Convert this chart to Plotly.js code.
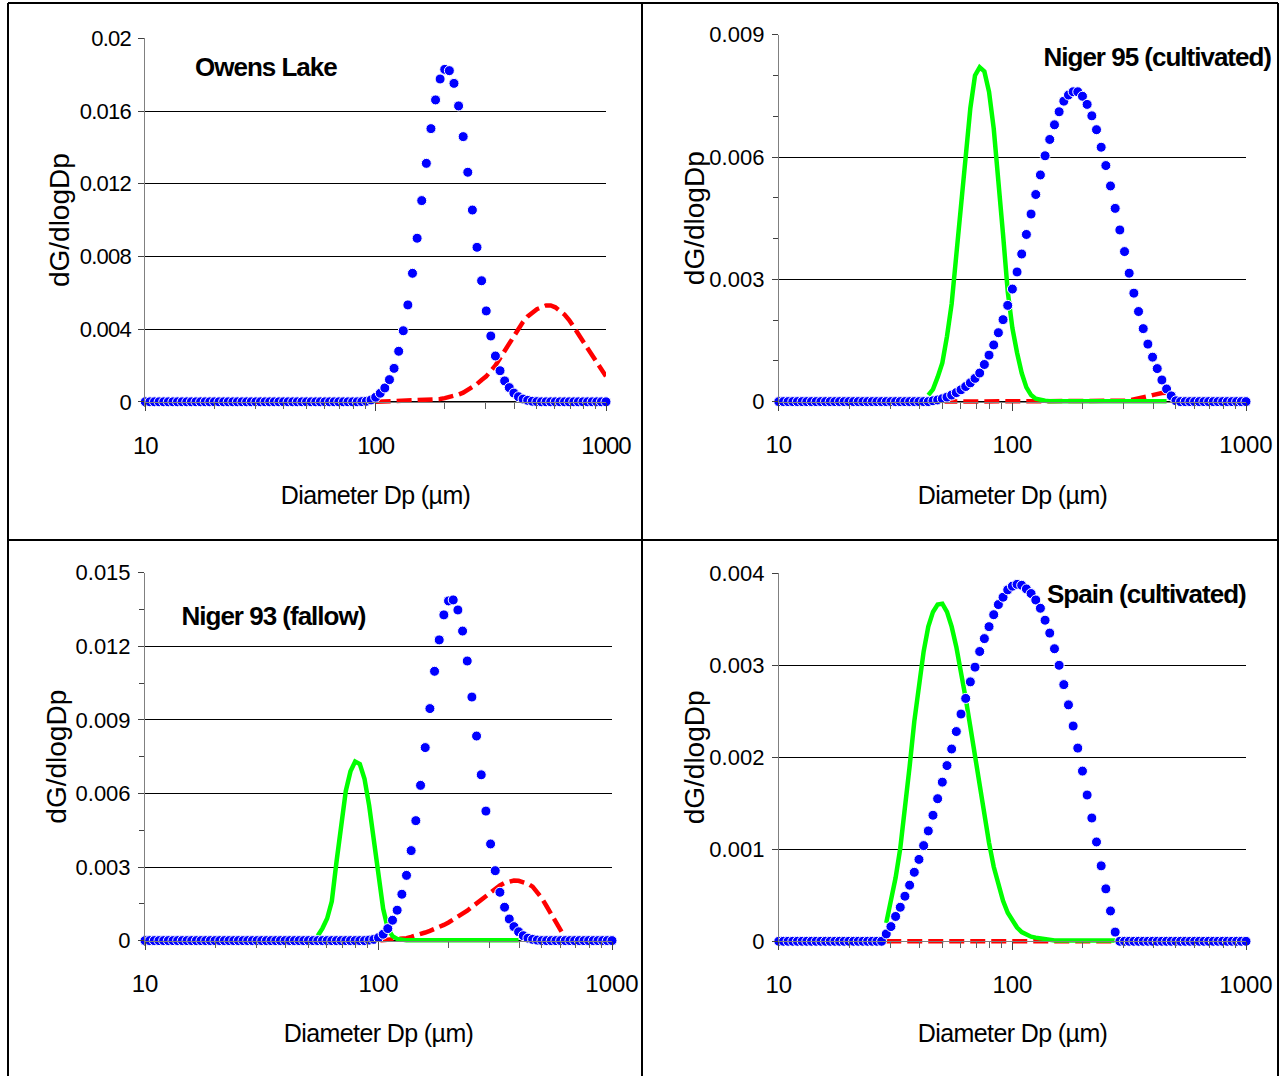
<!DOCTYPE html>
<html>
<head>
<meta charset="utf-8">
<script src="https://cdn.plot.ly/plotly-3.0.1.min.js"></script>
<style>
  html, body { margin: 0; padding: 0; background: #ffffff; }
  #chart { width: 1280px; height: 1076px; }
  /* tighter, condensed-looking lettering */
  #chart .xtick text { letter-spacing: -1px; }
  #chart .ytick text { letter-spacing: -0.8px; }
  #chart .annotation text[style*="26px"] { letter-spacing: -1px; }
  #chart .annotation text[style*="25px"] { letter-spacing: -0.6px; }
</style>
</head>
<body>
<div id="chart"></div>
<script>
// Particle diameter grid (µm), shared by every series
const DP = [
  10, 10.47, 10.96, 11.48, 12.02, 12.59, 13.18, 13.8, 14.45, 15.14,
  15.85, 16.6, 17.38, 18.2, 19.05, 19.95, 20.89, 21.88, 22.91, 23.99,
  25.12, 26.3, 27.54, 28.84, 30.2, 31.62, 33.11, 34.67, 36.31, 38.02,
  39.81, 41.69, 43.65, 45.71, 47.86, 50.12, 52.48, 54.95, 57.54, 60.26,
  63.1, 66.07, 69.18, 72.44, 75.86, 79.43, 83.18, 87.1, 91.2, 95.5,
  100, 104.7, 109.6, 114.8, 120.2, 125.9, 131.8, 138, 144.5, 151.4,
  158.5, 166, 173.8, 182, 190.5, 199.5, 208.9, 218.8, 229.1, 239.9,
  251.2, 263, 275.4, 288.4, 302, 316.2, 331.1, 346.7, 363.1, 380.2,
  398.1, 416.9, 436.5, 457.1, 478.6, 501.2, 524.8, 549.5, 575.4, 602.6,
  631, 660.7, 691.8, 724.4, 758.6, 794.3, 831.8, 871, 912, 955,
  1000
];

// ---- Owens Lake ----
const BLUE_OWENS = [
  0, 0, 0, 0, 0, 0, 0, 0, 0, 0,
  0, 0, 0, 0, 0, 0, 0, 0, 0, 0,
  0, 0, 0, 0, 0, 0, 0, 0, 0, 0,
  0, 0, 0, 0, 0, 0, 0, 0, 0, 0,
  0, 0, 0, 0, 0, 0, 0, 0.00001, 0.00003, 0.0001,
  0.00025, 0.00047, 0.00076, 0.00122, 0.00184, 0.00278, 0.00391, 0.00533, 0.00707, 0.009,
  0.01107, 0.01312, 0.01503, 0.01661, 0.01776, 0.01829, 0.01822, 0.01752, 0.01628, 0.01459,
  0.01263, 0.01055, 0.0085, 0.00666, 0.005, 0.00362, 0.00252, 0.00171, 0.00115, 0.00078,
  0.00048, 0.00028, 0.00015, 0.00008, 0.00003, 0.00001, 0, 0, 0, 0,
  0, 0, 0, 0, 0, 0, 0, 0, 0, 0,
  0
];
const RED_OWENS = [
  null, null, null, null, null, null, null, null, null, null,
  null, null, null, null, null, null, null, null, null, null,
  null, null, null, null, null, null, null, null, null, null,
  null, null, null, null, null, null, null, null, null, null,
  null, null, null, null, null, null, null, null, null, null,
  0, 0.00001, 0.00001, 0.00002, 0.00002, 0.00003, 0.00003, 0.00004, 0.00005, 0.00006,
  0.00007, 0.00008, 0.0001, 0.00012, 0.00015, 0.0002, 0.00025, 0.00032, 0.0004, 0.0005,
  0.00065, 0.0008, 0.00098, 0.0012, 0.0014, 0.0017, 0.002, 0.0024, 0.0028, 0.0033,
  0.0037, 0.0041, 0.0044, 0.0047, 0.0049, 0.0051, 0.0052, 0.0053, 0.0053, 0.0052,
  0.005, 0.0048, 0.0045, 0.0041, 0.0037, 0.0033, 0.0029, 0.0025, 0.0021, 0.0018,
  0.0014
];

// ---- Niger 95 (cultivated) ----
const BLUE_NIGER95 = [
  0, 0, 0, 0, 0, 0, 0, 0, 0, 0,
  0, 0, 0, 0, 0, 0, 0, 0, 0, 0,
  0, 0, 0, 0, 0, 0, 0, 0, 0, 0,
  0, 0, 0, 0.00002, 0.00004, 0.00007, 0.00011, 0.00016, 0.00022, 0.00029,
  0.00037, 0.00046, 0.00057, 0.0007, 0.00091, 0.00114, 0.00139, 0.00169, 0.00201, 0.00236,
  0.00276, 0.00318, 0.00362, 0.0041, 0.0046, 0.00508, 0.00556, 0.00603, 0.00643, 0.00679,
  0.00711, 0.00737, 0.00752, 0.0076, 0.0076, 0.00749, 0.00729, 0.00701, 0.00667, 0.00624,
  0.00579, 0.00529, 0.00474, 0.00421, 0.00368, 0.00315, 0.00266, 0.00221, 0.00179, 0.00141,
  0.00109, 0.00081, 0.00053, 0.00031, 0.00014, 0.00002, 0, 0, 0, 0,
  0, 0, 0, 0, 0, 0, 0, 0, 0, 0,
  0
];
const RED_NIGER95 = [
  null, null, null, null, null, null, null, null, null, null,
  null, null, null, null, null, null, null, null, null, null,
  null, null, null, null, null, null, null, null, null, null,
  null, null, null, null, null, 0, 0, 0, 0, 0,
  0, 0, 0, 0, 0, 0, 0, 0, 0, 0,
  0, 0, 0, 0, 0, 0, 0, 0, 0, 0,
  0, 0.00001, 0.00001, 0.00001, 0.00001, 0.00001, 0.00001, 0.00001, 0.00001, 0.00001,
  0.00001, 0.00001, 0.00001, 0.00001, 0.00002, 0.00003, 0.00005, 0.00007, 0.0001, 0.00013,
  0.00016, 0.00019, 0.00021, 0.00022, null, null, null, null, null, null,
  null, null, null, null, null, null, null, null, null, null,
  null
];
const GREEN_NIGER95 = [
  null, null, null, null, null, null, null, null, null, null,
  null, null, null, null, null, null, null, null, null, null,
  null, null, null, null, null, null, null, null, null, null,
  null, null, 0.00016, 0.0003, 0.0006, 0.00095, 0.0016, 0.0024, 0.0036, 0.0048,
  0.0061, 0.0072, 0.008, 0.0082, 0.0081, 0.0076, 0.0067, 0.0055, 0.0041, 0.0027,
  0.0018, 0.0012, 0.0007, 0.00035, 0.00016, 0.00007, 0.00004, 0.00002, 0.00001, 0.00001,
  0.00001, 0.00001, 0.00001, 0.00001, 0.00001, 0.00001, 0.00001, 0.00001, 0.00001, 0.00001,
  0.00001, 0.00001, 0.00001, 0.00001, 0.00001, 0.00001, 0.00001, 0.00001, 0.00001, 0.00001,
  0.00001, 0.00001, 0.00001, 0.00001, null, null, null, null, null, null,
  null, null, null, null, null, null, null, null, null, null,
  null
];

// ---- Niger 93 (fallow) ----
const BLUE_NIGER93 = [
  0, 0, 0, 0, 0, 0, 0, 0, 0, 0,
  0, 0, 0, 0, 0, 0, 0, 0, 0, 0,
  0, 0, 0, 0, 0, 0, 0, 0, 0, 0,
  0, 0, 0, 0, 0, 0, 0, 0, 0, 0,
  0, 0, 0, 0, 0, 0, 0, 0, 0.00002, 0.00005,
  0.00012, 0.00026, 0.00049, 0.00083, 0.00124, 0.00189, 0.00266, 0.00367, 0.00489, 0.00633,
  0.00787, 0.00946, 0.01098, 0.01226, 0.01328, 0.01385, 0.01389, 0.01348, 0.01262, 0.0114,
  0.00993, 0.00834, 0.00676, 0.00528, 0.00394, 0.00285, 0.00197, 0.00136, 0.00088, 0.00057,
  0.00036, 0.0002, 0.0001, 0.00005, 0.00002, 0, 0, 0, 0, 0,
  0, 0, 0, 0, 0, 0, 0, 0, 0, 0,
  0
];
const RED_NIGER93 = [
  null, null, null, null, null, null, null, null, null, null,
  null, null, null, null, null, null, null, null, null, null,
  null, null, null, null, null, null, null, null, null, null,
  null, null, null, null, null, null, null, null, null, null,
  null, null, null, null, null, null, null, null, null, null,
  0, 0.00001, 0.00002, 0.00003, 0.00005, 0.00007, 0.0001, 0.00015, 0.0002, 0.00027,
  0.00033, 0.0004, 0.00047, 0.00055, 0.00064, 0.00074, 0.00085, 0.00097, 0.0011, 0.00122,
  0.00137, 0.00152, 0.0017, 0.00185, 0.002, 0.00212, 0.00225, 0.00235, 0.00242, 0.00245,
  0.00244, 0.0024, 0.00232, 0.0022, 0.00198, 0.00172, 0.0014, 0.00108, 0.00075, 0.00042,
  0.0001, null, null, null, null, null, null, null, null, null,
  null
];
const GREEN_NIGER93 = [
  null, null, null, null, null, null, null, null, null, null,
  null, null, null, null, null, null, null, null, null, null,
  null, null, null, null, null, null, null, null, null, null,
  null, null, null, null, null, null, null, 0.0002, 0.0005, 0.0009,
  0.0016, 0.0032, 0.0047, 0.0061, 0.0069, 0.0073, 0.0072, 0.0066, 0.0055, 0.004,
  0.0025, 0.0013, 0.0005, 0.00018, 0.00007, 0.00003, 0.00001, 0.00001, 0.00001, 0.00001,
  0.00001, 0.00001, 0.00001, 0.00001, 0.00001, 0.00001, 0.00001, 0.00001, 0.00001, 0.00001,
  0.00001, 0.00001, 0.00001, 0.00001, 0.00001, 0.00001, 0.00001, 0.00001, 0.00001, 0.00001,
  0.00001, null, null, null, null, null, null, null, null, null,
  null, null, null, null, null, null, null, null, null, null,
  null
];

// ---- Spain (cultivated) ----
const BLUE_SPAIN = [
  0, 0, 0, 0, 0, 0, 0, 0, 0, 0,
  0, 0, 0, 0, 0, 0, 0, 0, 0, 0,
  0, 0, 0, 0.00008, 0.00016, 0.00027, 0.00037, 0.00049, 0.00061, 0.00075,
  0.00089, 0.00104, 0.0012, 0.00137, 0.00155, 0.00173, 0.00191, 0.00209, 0.00228, 0.00247,
  0.00264, 0.00282, 0.00298, 0.00315, 0.00329, 0.00342, 0.00355, 0.00366, 0.00374, 0.00382,
  0.00386, 0.00388, 0.00387, 0.00383, 0.00378, 0.00371, 0.00362, 0.00349, 0.00335, 0.00318,
  0.003, 0.00279, 0.00257, 0.00234, 0.0021, 0.00185, 0.00159, 0.00134, 0.00108, 0.00082,
  0.00057, 0.00033, 0.0001, 0, 0, 0, 0, 0, 0, 0,
  0, 0, 0, 0, 0, 0, 0, 0, 0, 0,
  0, 0, 0, 0, 0, 0, 0, 0, 0, 0,
  0
];
const RED_SPAIN = [
  null, null, null, null, null, null, null, null, null, null,
  null, null, null, null, null, null, null, null, null, null,
  null, null, null, 0, 0, 0, 0, 0, 0, 0,
  0, 0, 0, 0, 0, 0, 0, 0, 0, 0,
  0, 0, 0, 0, 0, 0, 0, 0, 0, 0,
  0, 0, 0, 0, 0, 0, 0, 0, 0, 0,
  0, 0, 0, 0, 0, 0, 0, 0, 0, 0,
  0, 0, 0, null, null, null, null, null, null, null,
  null, null, null, null, null, null, null, null, null, null,
  null, null, null, null, null, null, null, null, null, null,
  null
];
const GREEN_SPAIN = [
  null, null, null, null, null, null, null, null, null, null,
  null, null, null, null, null, null, null, null, null, null,
  null, null, null, 0.0002, 0.00042, 0.00069, 0.00101, 0.00143, 0.0019, 0.00239,
  0.0028, 0.00315, 0.00342, 0.00358, 0.00366, 0.00367, 0.00358, 0.00342, 0.0032, 0.00295,
  0.00264, 0.00233, 0.002, 0.00168, 0.00137, 0.00107, 0.00081, 0.00061, 0.00044, 0.00031,
  0.00022, 0.00015, 0.0001, 0.00007, 0.00005, 0.00004, 0.00003, 0.00002, 0.00001, 0.00001,
  0.00001, 0.00001, 0.00001, 0.00001, 0.00001, 0.00001, 0.00001, 0.00001, 0.00001, 0.00001,
  0.00001, 0.00001, 0.00001, null, null, null, null, null, null, null,
  null, null, null, null, null, null, null, null, null, null,
  null, null, null, null, null, null, null, null, null, null,
  null
];

const PANEL_TITLES = ['Owens Lake', 'Niger 95 (cultivated)', 'Niger 93 (fallow)', 'Spain (cultivated)'];
const Y_MAX = [0.02, 0.009, 0.015, 0.004];
const Y_STEP = [0.004, 0.003, 0.003, 0.001];
const Y_MINOR_STEP = [null, 0.001, 0.0015, null];
const X_TITLE = 'Diameter Dp (µm)';
const Y_TITLE = 'dG/dlogDp';

// ---------- page geometry (pixels) ----------
const W = 1280, H = 1076;
const FONT = '"Liberation Sans", Arial, Helvetica, sans-serif';
const BLUE = '#0000ff', RED = '#ff0000', GREEN = '#00ff00';
// the plotting area reaches a few pixels below zero so lines lying on
// the baseline keep their full stroke width
const BELOW_ZERO = 5;

const panels = [
  { x: [145.3, 606], y: [38.3, 401.8], title: [265.5, 67], yTitleX: 59, xTitleY: 495.5,
    red: RED_OWENS, green: null, blue: BLUE_OWENS },
  { x: [778.8, 1246], y: [34.7, 401.6], title: [1157, 57], yTitleX: 694, xTitleY: 495.5,
    red: RED_NIGER95, green: GREEN_NIGER95, blue: BLUE_NIGER95 },
  { x: [145, 612], y: [572.7, 940.6], title: [273, 616], yTitleX: 57, xTitleY: 1033,
    red: RED_NIGER93, green: GREEN_NIGER93, blue: BLUE_NIGER93 },
  { x: [778.8, 1246], y: [573.3, 941.3], title: [1146.5, 594], yTitleX: 694, xTitleY: 1033,
    red: RED_SPAIN, green: GREEN_SPAIN, blue: BLUE_SPAIN }
];

const px = v => v / W;
const py = v => 1 - v / H;

const data = [];
const layout = {
  width: W, height: H,
  margin: { l: 0, r: 0, t: 0, b: 0 },
  paper_bgcolor: '#ffffff', plot_bgcolor: 'rgba(0,0,0,0)',
  font: { family: FONT, color: '#000000' },
  showlegend: false,
  annotations: [],
  shapes: []
};

panels.forEach((p, k) => {
  const n = k === 0 ? '' : String(k + 1);
  const xa = 'x' + n, ya = 'y' + n;
  const top = p.y[0], zero = p.y[1];
  const yMin = -Y_MAX[k] * BELOW_ZERO / (zero - top);

  layout['xaxis' + n] = {
    type: 'log', range: [1, 3], domain: [px(p.x[0]), px(p.x[1])],
    anchor: 'free', position: py(zero),
    dtick: 1, showgrid: false, zeroline: false,
    showline: true, linecolor: '#808080', linewidth: 1,
    ticks: 'outside', ticklen: 8, tickwidth: 1, tickcolor: '#404040',
    minor: { dtick: 'D1', ticks: 'outside', ticklen: 6, tickwidth: 1, tickcolor: '#606060', showgrid: false },
    tickfont: { family: FONT, size: 24, color: '#000000' },
    ticklabelstandoff: 14, fixedrange: true
  };
  const yAxis = {
    range: [yMin, Y_MAX[k]], domain: [py(zero + BELOW_ZERO), py(top)], anchor: xa,
    tick0: 0, dtick: Y_STEP[k],
    showgrid: true, gridcolor: '#000000', gridwidth: 1, zeroline: false,
    showline: true, linecolor: '#808080', linewidth: 1,
    ticks: 'outside', ticklen: 6, tickwidth: 1, tickcolor: '#404040',
    tickfont: { family: FONT, size: 22, color: '#000000' },
    ticklabelstandoff: 3, fixedrange: true
  };
  if (Y_MINOR_STEP[k]) {
    yAxis.minor = { dtick: Y_MINOR_STEP[k], tick0: 0, ticks: 'outside', ticklen: 5,
                    tickwidth: 1, tickcolor: '#404040', showgrid: false };
  }
  layout['yaxis' + n] = yAxis;

  data.push({
    x: DP, y: p.red, xaxis: xa, yaxis: ya, type: 'scatter', mode: 'lines',
    line: { color: RED, width: 4.5, dash: '15px,6px' }, connectgaps: false,
    cliponaxis: false, hoverinfo: 'skip'
  });
  if (p.green) {
    data.push({
      x: DP, y: p.green, xaxis: xa, yaxis: ya, type: 'scatter', mode: 'lines',
      line: { color: GREEN, width: 4.5 }, connectgaps: false,
      cliponaxis: false, hoverinfo: 'skip'
    });
  }
  data.push({
    x: DP, y: p.blue, xaxis: xa, yaxis: ya, type: 'scatter', mode: 'markers',
    marker: { color: BLUE, size: 10, line: { color: '#ffffff', width: 1 } },
    cliponaxis: false, hoverinfo: 'skip'
  });

  // panel name
  layout.annotations.push({
    text: '<b>' + PANEL_TITLES[k] + '</b>', showarrow: false,
    xref: 'paper', yref: 'paper', x: px(p.title[0]), y: py(p.title[1]),
    xanchor: 'center', yanchor: 'middle',
    font: { family: FONT, size: 26, color: '#000000' }
  });
  // axis titles
  layout.annotations.push({
    text: X_TITLE, showarrow: false,
    xref: xa + ' domain', yref: 'paper', x: 0.5, y: py(p.xTitleY),
    xanchor: 'center', yanchor: 'middle',
    font: { family: FONT, size: 25, color: '#000000' }
  });
  layout.annotations.push({
    text: Y_TITLE, showarrow: false, textangle: -90,
    xref: 'paper', yref: 'paper', x: px(p.yTitleX), y: py((top + zero) / 2),
    xanchor: 'center', yanchor: 'middle',
    font: { family: FONT, size: 28, color: '#000000' }
  });
});

// frame around the four panels
const frame = [
  [8, 3, 8, 1076], [8, 3, 1278, 3], [1278, 3, 1278, 1076],
  [642, 3, 642, 1076], [8, 540, 1278, 540]
];
frame.forEach(s => layout.shapes.push({
  type: 'line', xref: 'paper', yref: 'paper',
  x0: px(s[0]), y0: py(s[1]), x1: px(s[2]), y1: py(s[3]),
  line: { color: '#000000', width: 2 }
}));

Plotly.newPlot('chart', data, layout, { staticPlot: true, displayModeBar: false });
</script>
</body>
</html>
